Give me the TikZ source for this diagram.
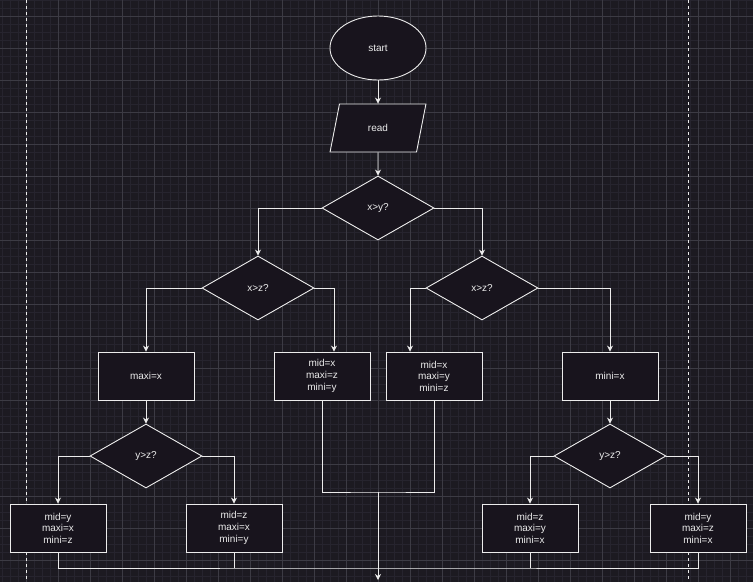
\documentclass[tikz,border=0pt]{standalone}
\usepackage{fontspec}
\setmainfont{Liberation Sans}
\usetikzlibrary{arrows.meta,shapes.geometric}
\definecolor{bgcol}{RGB}{28,26,33}
\definecolor{minorcol}{RGB}{38,36,46}
\definecolor{majorcol}{RGB}{60,59,68}
\definecolor{fillcol}{RGB}{24,20,29}
\definecolor{inkcol}{RGB}{236,236,236}

\begin{document}
\begin{tikzpicture}[x=1pt,y=-1pt]
\tikzset{
  box/.style={rectangle,draw=inkcol,fill=fillcol,line width=0.9pt,minimum width=96pt,minimum height=48pt,inner sep=1pt,align=center,text=inkcol,font=\fontsize{10}{11.6}\selectfont},
  decision/.style={diamond,aspect=1.75,draw=inkcol,fill=fillcol,line width=0.9pt,minimum width=112pt,minimum height=64pt,inner sep=0pt,text=inkcol,font=\fontsize{10}{12}\selectfont},
  terminal/.style={ellipse,draw=inkcol,fill=fillcol,line width=0.9pt,minimum width=96pt,minimum height=64pt,text=inkcol,font=\fontsize{10}{12}\selectfont},
  inout/.style={trapezium,trapezium left angle=71.57,trapezium right angle=108.43,trapezium stretches=true,draw=inkcol,fill=fillcol,line width=0.9pt,minimum width=96pt,minimum height=48pt,inner sep=0pt,text=inkcol,font=\fontsize{10}{12}\selectfont},
  flow/.style={-{Stealth[length=6pt,width=6pt]},draw=inkcol,line width=0.9pt},
  plain/.style={draw=inkcol,line width=0.9pt},
  minorgrid/.style={minorcol,line width=0.7pt},
  majorgrid/.style={majorcol,line width=0.7pt},
  pageline/.style={inkcol,dashed,dash pattern=on 3pt off 3pt,line width=0.9pt}
}
% canvas and grid
\path[use as bounding box,fill=bgcol] (0,0) rectangle (753,582);
\foreach \gx in {2,10,...,746} \draw[minorgrid] (\gx,0) -- (\gx,582);
\foreach \gy in {0,8,...,576} \draw[minorgrid] (0,\gy) -- (753,\gy);
\foreach \gx in {26,58,...,730} \draw[majorgrid] (\gx,0) -- (\gx,582);
\foreach \gy in {16,48,...,560} \draw[majorgrid] (0,\gy) -- (753,\gy);
\draw[pageline] (26.5,0) -- (26.5,582);
\draw[pageline] (688,0) -- (688,582);
% nodes
\node[terminal] (n_start) at (378,48) {start};
\node[inout] (n_read) at (378,128) {read};
\node[decision] (n_xy) at (378,208) {x>y?};
\node[decision] (n_xzL) at (258,288) {x>z?};
\node[decision] (n_xzR) at (482,288) {x>z?};
\node[box] (n_maxx) at (146,376) {maxi=x};
\node[box] (n_xzy) at (322,376) {mid=x\\maxi=z\\mini=y};
\node[box] (n_xyz) at (434,376) {mid=x\\maxi=y\\mini=z};
\node[box] (n_minx) at (610,376) {mini=x};
\node[decision] (n_yzL) at (146,456) {y>z?};
\node[decision] (n_yzR) at (610,456) {y>z?};
\node[box] (n_yxz) at (58,528) {mid=y\\maxi=x\\mini=z};
\node[box] (n_zxy) at (234,528) {mid=z\\maxi=x\\mini=y};
\node[box] (n_zyx) at (530,528) {mid=z\\maxi=y\\mini=x};
\node[box] (n_yzx) at (698,528) {mid=y\\maxi=z\\mini=x};
\coordinate (c_join) at (378,492);
\coordinate (c_bus) at (378,568);
\coordinate (c_end) at (378,580);
% connectors
\draw[flow] (n_start) -- (n_read);
\draw[flow] (n_read) -- (n_xy);
\draw[flow] (n_xy.west) -| (n_xzL.north);
\draw[flow] (n_xy.east) -| (n_xzR.north);
\draw[flow] (n_xzL.west) -| (n_maxx.north);
\draw[flow] (n_xzL.east) -| ([xshift=12pt]n_xzy.north);
\draw[flow] (n_xzR.west) -| ([xshift=-24pt]n_xyz.north);
\draw[flow] (n_xzR.east) -| (n_minx.north);
\draw[flow] (n_maxx) -- (n_yzL);
\draw[flow] (n_minx) -- (n_yzR);
\draw[flow] (n_yzL.west) -| (n_yxz.north);
\draw[flow] (n_yzL.east) -| (n_zxy.north);
\draw[flow] (n_yzR.west) -| (n_zyx.north);
\draw[flow] (n_yzR.east) -| (n_yzx.north);
\draw[plain] (n_xzy.south) |- (c_join) -| (n_xyz.south);
\draw[plain] (n_yxz.south) |- (c_bus) -| (n_yzx.south);
\draw[plain] (n_zxy.south) -- (n_zxy.south |- c_bus);
\draw[plain] (n_zyx.south) -- (n_zyx.south |- c_bus);
\draw[flow] (c_join) -- (c_end);
\end{tikzpicture}
\end{document}
